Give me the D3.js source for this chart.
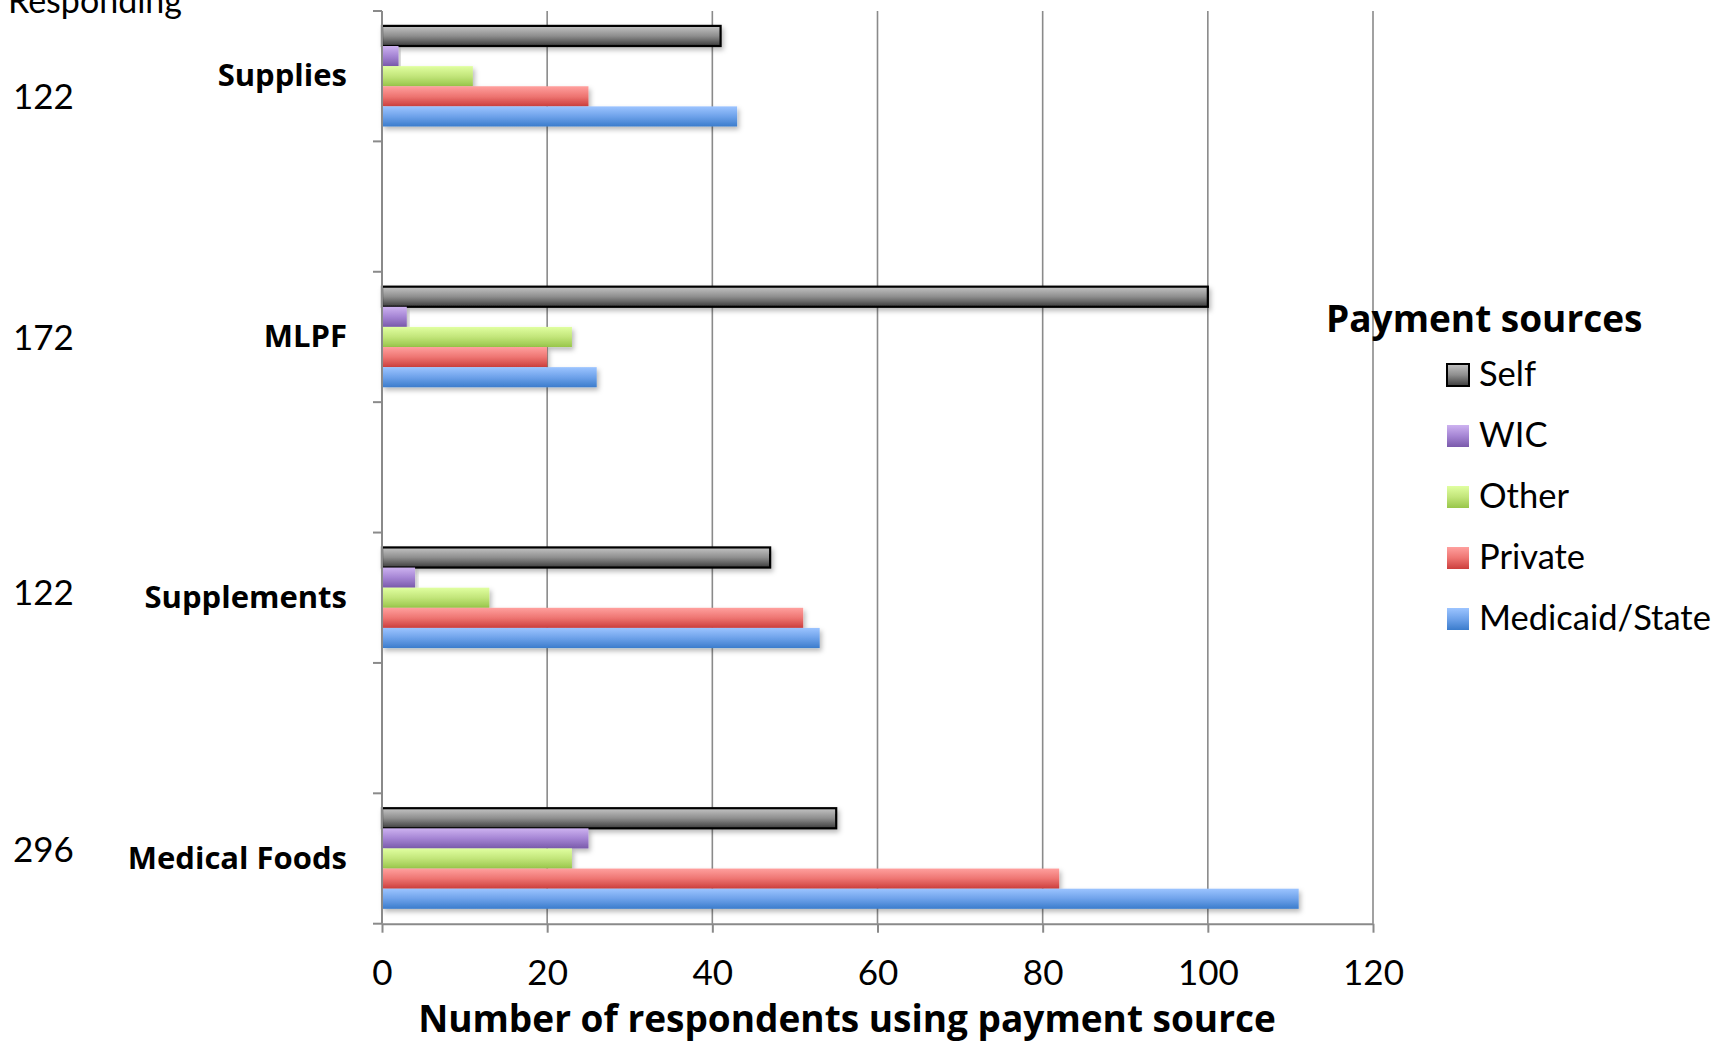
<!DOCTYPE html>
<html><head><meta charset="utf-8">
<script src="https://cdn.jsdelivr.net/npm/d3@7"></script>
<style>
html,body{margin:0;padding:0;background:#fff;overflow:hidden}
text{font-family:Lato,"Open Sans",sans-serif;fill:#000}
text.b{font-family:"Open Sans",Lato,sans-serif;font-weight:bold}
</style></head>
<body><svg id="c" width="1714" height="1043"></svg>
<script>
// ---- data ----
const categories = ["Supplies", "", "MLPF", " ", "Supplements", "  ", "Medical Foods"];
const series = ["Self", "WIC", "Other", "Private", "Medicaid/State"];
const selfVals     = [41, null, 100, null, 47, null, 55];
const wicVals      = [2,  null, 3,   null, 4,  null, 25];
const otherVals    = [11, null, 23,  null, 13, null, 23];
const privateVals  = [25, null, 20,  null, 51, null, 82];
const medicaidVals = [43, null, 26,  null, 53, null, 111];
const respondingCats = ["Supplies", "MLPF", "Supplements", "Medical Foods"];
const respondingN = [122, 172, 122, 296];
const xTicks = [0, 20, 40, 60, 80, 100, 120];
const respondNudge = [19, -1, -7, -11];

(function () {
const valuesBySeries = [selfVals, wicVals, otherVals, privateVals, medicaidVals];
const colors = {
  "Self": ["#c4c4c4", "#8e8e8e", "#3c3c3c"],
  "WIC": ["#cdb2f0", "#a585d4", "#7a5aab"],
  "Other": ["#e0ffa0", "#c2e57a", "#98c64a"],
  "Private": ["#ffa09e", "#ee7572", "#cc3f3d"],
  "Medicaid/State": ["#9cc4ff", "#6ea2ea", "#3b7ccc"]
};

const svg = d3.select("#c");
const defs = svg.append("defs");
series.forEach((s, i) => {
  const g = defs.append("linearGradient").attr("id", "g" + i)
    .attr("x1", 0).attr("y1", 0).attr("x2", 0).attr("y2", 1);
  g.append("stop").attr("offset", "0%").attr("stop-color", colors[s][0]);
  g.append("stop").attr("offset", "50%").attr("stop-color", colors[s][1]);
  g.append("stop").attr("offset", "100%").attr("stop-color", colors[s][2]);
});
const f = defs.append("filter").attr("id", "sh").attr("x", "-5%").attr("y", "-30%").attr("width", "115%").attr("height", "180%");
f.append("feDropShadow").attr("dx", 2).attr("dy", 3).attr("stdDeviation", 2.5).attr("flood-color", "#000").attr("flood-opacity", 0.28);

const pLeft = 382, pRight = 1373, pTop = 11, pBottom = 923.7;
const x = d3.scaleLinear().domain([0, 120]).range([pLeft, pRight]);
const y0 = d3.scaleBand().domain(categories).range([pTop, pBottom]).padding(0);
const y1 = d3.scaleBand().domain(series).range([0, y0.bandwidth()]).paddingInner(0).paddingOuter(0.74);

// gridlines
svg.append("g").selectAll("line").data(xTicks.filter(t => t > 0)).join("line")
  .attr("x1", d => x(d)).attr("x2", d => x(d)).attr("y1", pTop).attr("y2", pBottom)
  .attr("stroke", "#8a8a8a").attr("stroke-width", 1.6);

// bars
const rows = [];
categories.forEach((c, ci) => series.forEach((s, si) => {
  const v = valuesBySeries[si][ci];
  if (v != null) rows.push({c, s, si, v});
}));
svg.append("g").selectAll("rect").data(rows).join("rect")
  .attr("x", x(0)).attr("y", d => y0(d.c) + y1(d.s))
  .attr("width", d => x(d.v) - x(0)).attr("height", y1.bandwidth())
  .attr("fill", d => `url(#g${d.si})`)
  .attr("stroke", d => d.s === "Self" ? "#000" : "none")
  .attr("stroke-width", d => d.s === "Self" ? 2.2 : 0)
  .attr("filter", "url(#sh)");

// y axis
const yAxis = svg.append("g");
yAxis.append("line").attr("x1", pLeft).attr("x2", pLeft).attr("y1", pTop).attr("y2", pBottom)
  .attr("stroke", "#8a8a8a").attr("stroke-width", 2);
const bounds = categories.map(c => y0(c)).concat([pBottom]);
yAxis.selectAll("line.t").data(bounds).join("line").attr("class", "t")
  .attr("x1", pLeft - 9).attr("x2", pLeft).attr("y1", d => d).attr("y2", d => d)
  .attr("stroke", "#8a8a8a").attr("stroke-width", 2);
yAxis.selectAll("text").data(categories.filter(c => c.trim() !== "")).join("text")
  .attr("class", "b")
  .attr("x", 347).attr("y", d => y0(d) + y0.bandwidth() / 2 - 2)
  .attr("text-anchor", "end").attr("dominant-baseline", "central")
  .attr("font-size", 31).text(d => d);

// x axis
const xAxis = d3.axisBottom(x).tickValues(xTicks).tickSize(9).tickSizeOuter(0).tickPadding(19);
const xg = svg.append("g").attr("transform", `translate(0,${pBottom})`).call(xAxis);
xg.select(".domain").attr("stroke", "#8a8a8a").attr("stroke-width", 2);
xg.selectAll(".tick line").attr("stroke", "#8a8a8a").attr("stroke-width", 2);
xg.selectAll(".tick text").attr("font-family", "Lato").attr("font-size", 35).attr("fill", "#000").attr("dy", "0.95em");

svg.append("text").attr("class", "b").attr("x", 847).attr("y", 1032).attr("text-anchor", "middle")
  .attr("font-size", 37).text("Number of respondents using payment source");

// responding counts
svg.append("text").attr("x", 182).attr("y", 13).attr("text-anchor", "end").attr("font-size", 34).text("Responding");
svg.append("g").selectAll("text").data(respondingCats).join("text")
  .attr("x", 13).attr("y", (d, i) => y0(d) + y0.bandwidth() / 2 + respondNudge[i])
  .attr("dominant-baseline", "central").attr("font-size", 35)
  .text((d, i) => respondingN[i]);

// legend
const lg = svg.append("g");
lg.append("text").attr("class", "b").attr("x", 1326).attr("y", 332).attr("font-size", 37).text("Payment sources");
const li = lg.selectAll("g").data(series).join("g")
  .attr("transform", (d, i) => `translate(1447,${364 + i * 61})`);
li.append("rect").attr("width", 22).attr("height", 22)
  .attr("fill", (d, i) => `url(#g${i})`)
  .attr("stroke", d => d === "Self" ? "#000" : "none").attr("stroke-width", 2);
li.append("text").attr("x", 32).attr("y", 8).attr("dominant-baseline", "central")
  .attr("font-size", 34.5).text(d => d);
})();
</script></body></html>
